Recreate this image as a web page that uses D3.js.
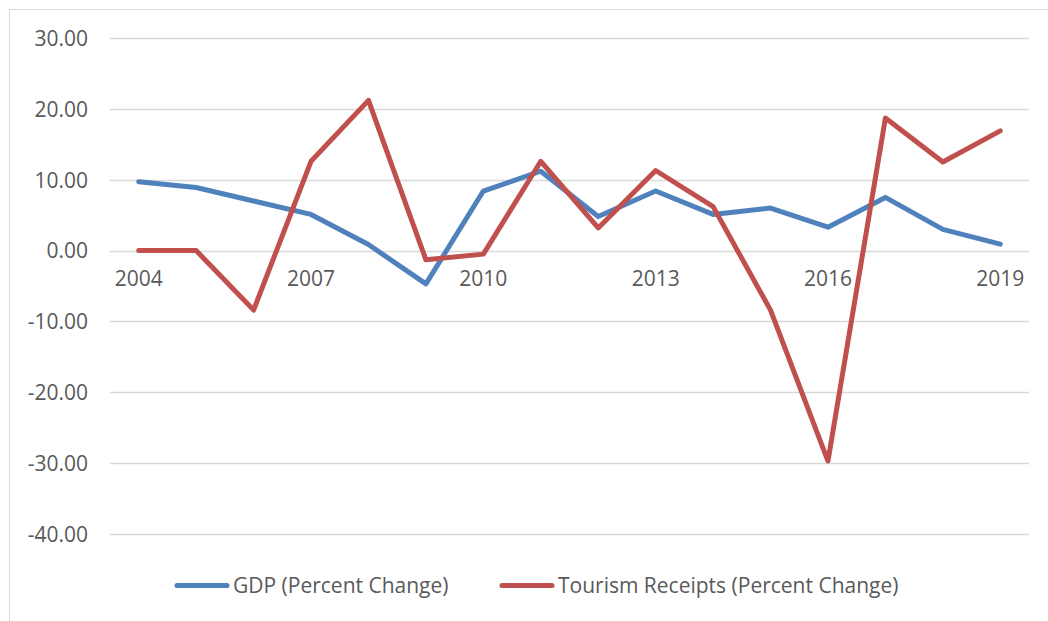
<!DOCTYPE html>
<html>
<head>
<meta charset="utf-8">
<script src="https://cdn.jsdelivr.net/npm/d3@7"></script>
<style>
  html, body { margin: 0; padding: 0; background: #fff; }
  svg { display: block; }
  text { font-family: "Open Sans", Lato, sans-serif; fill: #595959; }
</style>
</head>
<body>
<svg id="chart" width="1048" height="621"></svg>
<script>
const years = ["2004","2005","2006","2007","2008","2009","2010","2011","2012","2013","2014","2015","2016","2017","2018","2019"];
const gdp = [9.7, 8.9, 7.0, 5.1, 0.85, -4.7, 8.4, 11.2, 4.8, 8.4, 5.1, 6.0, 3.3, 7.5, 3.0, 0.9];
const tourism = [0.0, 0.0, -8.4, 12.6, 21.2, -1.3, -0.5, 12.6, 3.2, 11.3, 6.2, -8.4, -29.7, 18.7, 12.5, 16.9];
const yTicks = [30, 20, 10, 0, -10, -20, -30, -40];
const xLabelYears = ["2004","2007","2010","2013","2016","2019"];
const seriesNames = ["GDP (Percent Change)", "Tourism Receipts (Percent Change)"];
const seriesColors = ["#4f81bd", "#c0504d"];

const FONT = "'Open Sans', Lato, sans-serif";
const FS = 21;

const svg = d3.select("#chart");
const plot = {left: 110, right: 1029, top: 38, bottom: 534};

// chart area border (left and top visible)
svg.append("rect").attr("x", 9.5).attr("y", 9.5).attr("width", 1200).attr("height", 800)
  .attr("fill", "none").attr("stroke", "#d9d9d9").attr("stroke-width", 1);

const x = d3.scaleBand().domain(years).range([plot.left, plot.right]).padding(0);
const xc = d => x(d) + x.bandwidth() / 2;
const y = d3.scaleLinear().domain([-40, 30]).range([plot.bottom, plot.top]);

// gridlines
svg.append("g").selectAll("line").data(yTicks).join("line")
  .attr("x1", plot.left).attr("x2", plot.right)
  .attr("y1", d => Math.round(y(d)) + 0.5).attr("y2", d => Math.round(y(d)) + 0.5)
  .attr("stroke", "#d9d9d9").attr("stroke-width", 1.5);

// y axis labels (hyphen minus as in the reference)
const fmt = d => d.toFixed(2);
const yAxis = d3.axisLeft(y).tickValues(yTicks).tickFormat(fmt).tickSize(0).tickPadding(0);
const yg = svg.append("g").attr("transform", `translate(88,0)`).call(yAxis);
yg.select(".domain").remove();
yg.selectAll("text").attr("font-size", FS).attr("fill", "#595959").attr("dy", "0.35em")
  .style("font-family", FONT);

// x labels along zero line
const xAxis = d3.axisBottom(x).tickValues(xLabelYears).tickSize(0).tickPadding(0);
const xg = svg.append("g").attr("transform", `translate(0,${y(0)})`).call(xAxis);
xg.select(".domain").remove();
xg.selectAll("text").attr("font-size", FS).attr("fill", "#595959").attr("y", 21).attr("dy", "0.71em")
  .style("font-family", FONT);

// lines
const line = d3.line().x((d, i) => xc(years[i])).y(d => y(d));
[gdp, tourism].forEach((s, k) => {
  svg.append("path").datum(s).attr("d", line)
    .attr("fill", "none").attr("stroke", seriesColors[k]).attr("stroke-width", 5)
    .attr("stroke-linejoin", "round").attr("stroke-linecap", "round");
});

// legend
const legendItems = [{x: 175, name: seriesNames[0], color: seriesColors[0]},
                     {x: 500, name: seriesNames[1], color: seriesColors[1]}];
const lg = svg.append("g").attr("transform", "translate(0,585.5)");
legendItems.forEach(it => {
  lg.append("line").attr("x1", it.x + 2).attr("x2", it.x + 52).attr("y1", 0).attr("y2", 0)
    .attr("stroke", it.color).attr("stroke-width", 5).attr("stroke-linecap", "round");
  lg.append("text").attr("x", it.x + 58).attr("y", 0).attr("dy", "0.35em")
    .attr("font-size", FS).style("font-family", FONT).text(it.name);
});
</script>
</body>
</html>
